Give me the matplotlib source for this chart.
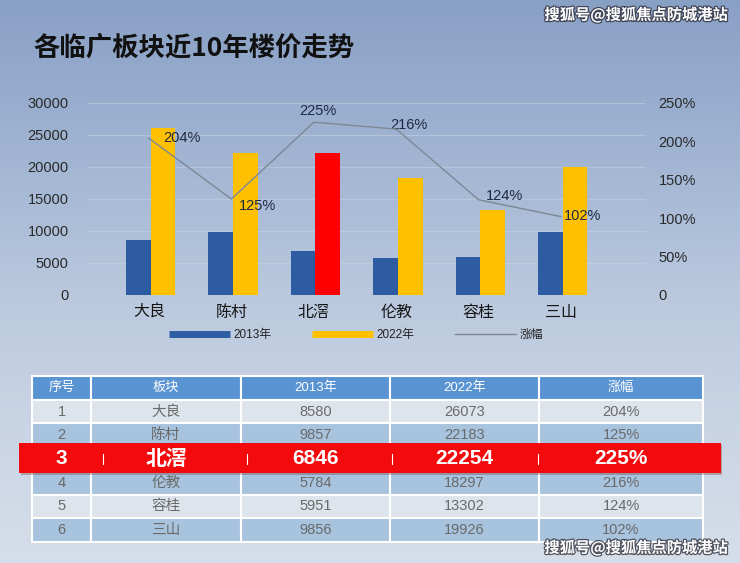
import numpy as np
import matplotlib
matplotlib.use('Agg')
import matplotlib.pyplot as plt
from matplotlib.patches import Rectangle
from matplotlib.lines import Line2D
import matplotlib.patheffects as pe

plt.rcParams['font.family'] = ['Liberation Sans', 'Noto Sans CJK SC', 'DejaVu Sans']

# Данные
categories = ['大良', '陈村', '北滘', '伦教', '容桂', '三山']
price_2013 = [8580, 9857, 6846, 5784, 5951, 9856]
price_2022 = [26073, 22183, 22254, 18297, 13302, 19926]
growth = [2.04, 1.25, 2.25, 2.16, 1.24, 1.02]
highlight = '北滘'

title = '各临广板块近10年楼价走势'
watermark = '搜狐号@搜狐焦点防城港站'
table_header = ['序号', '板块', '2013年', '2022年', '涨幅']

# Цвета
c_blue = '#2e5ca3'
c_yellow = '#ffc000'
c_red = '#ff0000'
c_line = '#7d8896'

W, H = 740, 563
fig = plt.figure(figsize=(W / 100, H / 100), dpi=100)

# Фон с градиентом
bg = fig.add_axes([0, 0, 1, 1], zorder=-1)
ys = np.arange(H)
stops_y = [0, 150, 300, 370, 563]
stops_c = np.array([(137, 160, 197), (160, 180, 210), (186, 201, 222),
                    (196, 208, 226), (214, 222, 233)]) / 255
grad = np.stack([np.interp(ys, stops_y, stops_c[:, i]) for i in range(3)], axis=-1)
bg.imshow(grad[:, None, :], extent=[0, W, H, 0], aspect='auto')
bg.set_xlim(0, W)
bg.set_ylim(H, 0)
bg.axis('off')

# Заголовок и водяные знаки
bg.text(33, 49, title, fontsize=19, fontweight='bold', color='#111111',
        va='center', ha='left', family=['Noto Sans CJK SC'])
for wy in (15, 548):
    bg.text(636, wy, watermark, fontsize=11, color='white', ha='center', va='center',
            family=['Noto Sans CJK SC'], fontweight='bold',
            path_effects=[pe.withStroke(linewidth=1.8, foreground=(0.15, 0.15, 0.2, 0.75))])

# Основной график
ax = fig.add_axes([88 / W, 1 - 295 / H, (646 - 88) / W, (295 - 103) / H])
ax.patch.set_alpha(0)
x = np.arange(len(categories))
w = 0.3
ax.bar(x - w / 2 + 0.02, price_2013, w, color=c_blue, zorder=3)
colors_2022 = [c_red if c == highlight else c_yellow for c in categories]
ax.bar(x + w / 2 + 0.02, price_2022, w, color=colors_2022, zorder=3)
ax.set_ylim(0, 30000)
ax.set_yticks(range(0, 30001, 5000))
ax.set_xlim(-0.74, 6.03)
ax.set_xticks(x)
ax.set_xticklabels(categories, fontsize=11.5, color='#151515')
ax.tick_params(axis='x', length=0, pad=7)
ax.tick_params(axis='y', length=0, pad=14, labelsize=10.5, labelcolor='#2a2a2a')
for s in ax.spines.values():
    s.set_visible(False)
ax.grid(axis='y', color='#d5dde8', linewidth=0.8, alpha=0.4, zorder=0)

ax2 = ax.twinx()
ax2.plot(x, growth, color=c_line, linewidth=1.0, zorder=4)
ax2.set_ylim(0, 2.5)
ax2.set_yticks(np.arange(0, 2.51, 0.5))
ax2.set_yticklabels(['0'] + [f'{int(round(v * 100))}%' for v in np.arange(0.5, 2.51, 0.5)])
ax2.tick_params(axis='y', length=0, pad=9, labelsize=10.5, labelcolor='#2a2a2a')
for s in ax2.spines.values():
    s.set_visible(False)

label_offsets = [(14, 0, 'left'), (7, -7, 'left'), (4, 11, 'center'),
                 (-6, 4, 'left'), (7, 4, 'left'), (3, 1, 'left')]
for xi, g, (dx, dy, ha) in zip(x, growth, label_offsets):
    ax2.annotate(f'{int(round(g * 100))}%', (xi, g), xytext=(dx, dy),
                 textcoords='offset pixels', ha=ha, va='center',
                 fontsize=10.5, color='#1e2a44')

# Легенда
handles = [Line2D([], [], color=c_blue, linewidth=5, solid_capstyle='butt'),
           Line2D([], [], color=c_yellow, linewidth=5, solid_capstyle='butt'),
           Line2D([], [], color=c_line, linewidth=1)]
fig.legend(handles, ['2013年', '2022年', '涨幅'], loc='center',
           bbox_to_anchor=(356 / W, 1 - 335 / H), ncol=3, frameon=False,
           fontsize=8.5, handlelength=5.2, handletextpad=0.3, columnspacing=3.4,
           labelcolor='#222222')

# Таблица
col_x = [32, 91, 241, 390, 539, 703]
row_top = 376
row_h = 23.7
head_color = '#5a93d2'
light_row = '#dde4ec'
blue_row = '#a7c3de'
text_gray = '#6a6a6a'

rows = []
for i, c in enumerate(categories):
    rows.append([str(i + 1), c, str(price_2013[i]), str(price_2022[i]),
                 f'{int(round(growth[i] * 100))}%'])

hi = categories.index(highlight)
for r in range(len(rows) + 1):
    y0 = row_top + r * row_h
    if r == 0:
        fc = head_color
    else:
        fc = light_row if r % 2 == 1 else blue_row
    for cidx in range(5):
        bg.add_patch(Rectangle((col_x[cidx], y0), col_x[cidx + 1] - col_x[cidx], row_h,
                               facecolor=fc, edgecolor='white', linewidth=1.5))
        cx = (col_x[cidx] + col_x[cidx + 1]) / 2
        if r == 0:
            bg.text(cx, y0 + row_h / 2, table_header[cidx], ha='center', va='center',
                    fontsize=9.5, color='white')
        elif r - 1 != hi:
            bg.text(cx, y0 + row_h / 2, rows[r - 1][cidx], ha='center', va='center',
                    fontsize=10.5, color=text_gray)

# Выделенная строка (перекрывает строку в таблице)
band_y = row_top + (hi + 1) * row_h + row_h / 2
bg.add_patch(Rectangle((21, band_y - 14), 701, 30, facecolor=(0.3, 0, 0, 0.25),
                       edgecolor='none'))
bg.add_patch(Rectangle((19, band_y - 15.5), 702, 30, facecolor='#f30a0c', edgecolor='none'))
for cidx in range(5):
    cx = (col_x[cidx] + col_x[cidx + 1]) / 2
    bg.text(cx, band_y, rows[hi][cidx], ha='center', va='center', fontsize=15,
            fontweight='bold', color='white')
for sx in (103, 247, 392, 538):
    bg.plot([sx, sx], [band_y - 5, band_y + 5], color='white', linewidth=0.8)

fig.savefig('out.png', dpi=100)
